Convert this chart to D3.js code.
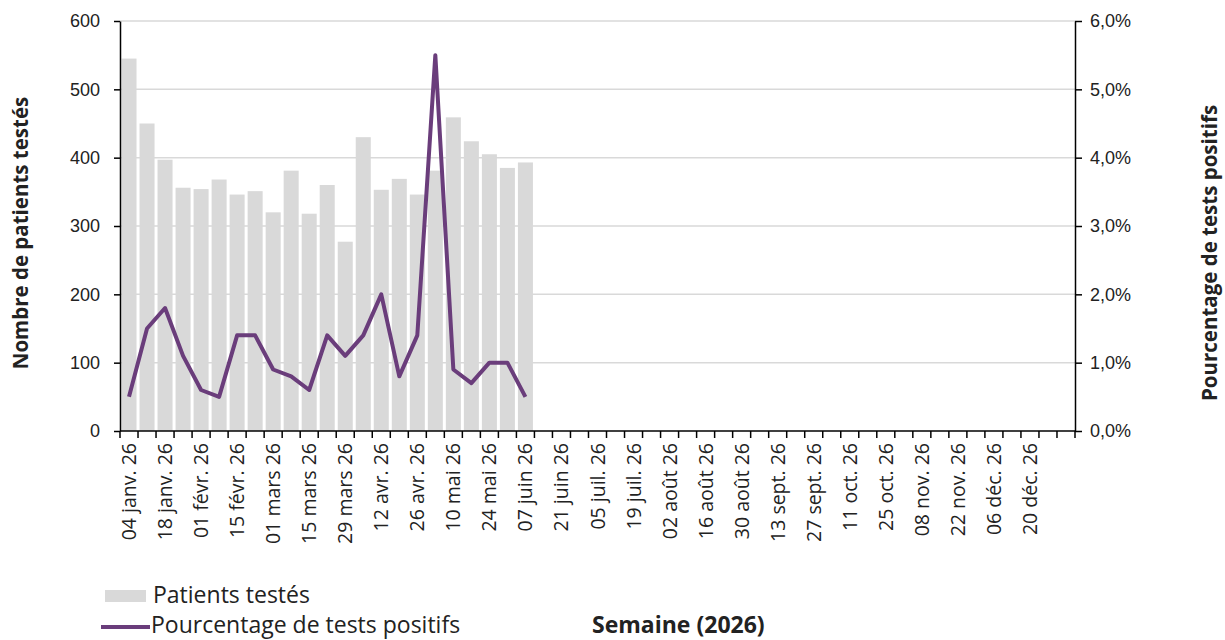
<!DOCTYPE html>
<html>
<head>
<meta charset="utf-8">
<script src="https://cdn.jsdelivr.net/npm/d3@7"></script>
<style>
  body { margin: 0; background: #fff; }
  svg { font-family: "Open Sans", sans-serif; }
  .axis path, .axis line { stroke: #000; stroke-width: 1.5px; }
  .axis text { font-size: 18px; fill: #222; }
  .axis text.xl { font-size: 19.5px; }
</style>
</head>
<body>
<svg width="1225" height="640"></svg>
<script>
// weeks of 2026 (x categories), the last one has no label
var weeks = ["04 janv. 26","11 janv. 26","18 janv. 26","25 janv. 26","01 févr. 26","08 févr. 26",
  "15 févr. 26","22 févr. 26","01 mars 26","08 mars 26","15 mars 26","22 mars 26","29 mars 26",
  "05 avr. 26","12 avr. 26","19 avr. 26","26 avr. 26","03 mai 26","10 mai 26","17 mai 26",
  "24 mai 26","31 mai 26","07 juin 26","14 juin 26","21 juin 26","28 juin 26","05 juil. 26",
  "12 juil. 26","19 juil. 26","26 juil. 26","02 août 26","09 août 26","16 août 26","23 août 26",
  "30 août 26","06 sept. 26","13 sept. 26","20 sept. 26","27 sept. 26","04 oct. 26","11 oct. 26",
  "18 oct. 26","25 oct. 26","01 nov. 26","08 nov. 26","15 nov. 26","22 nov. 26","29 nov. 26",
  "06 déc. 26","13 déc. 26","20 déc. 26","27 déc. 26","03 janv. 27"];

// labels printed under the axis
var tickLabels = ["04 janv. 26","18 janv. 26","01 févr. 26","15 févr. 26","01 mars 26","15 mars 26",
  "29 mars 26","12 avr. 26","26 avr. 26","10 mai 26","24 mai 26","07 juin 26","21 juin 26",
  "05 juil. 26","19 juil. 26","02 août 26","16 août 26","30 août 26","13 sept. 26","27 sept. 26",
  "11 oct. 26","25 oct. 26","08 nov. 26","22 nov. 26","06 déc. 26","20 déc. 26"];

// patients tested per week
var patients = [545, 450, 397, 356, 354, 368, 346, 351, 320, 381, 318, 360,
  277, 430, 353, 369, 346, 381, 459, 424, 405, 385, 393];

// percentage of positive tests
var positifs = [0.5, 1.5, 1.8, 1.1, 0.6, 0.5, 1.4, 1.4, 0.9, 0.8, 0.6, 1.4,
  1.1, 1.4, 2.0, 0.8, 1.4, 5.5, 0.9, 0.7, 1.0, 1.0, 0.5];

var leftTicks = [0, 100, 200, 300, 400, 500, 600];
var rightTicks = [0, 1, 2, 3, 4, 5, 6];

var svg = d3.select("svg");
var m = {left: 120, right: 1075, top: 21, bottom: 431};

var x = d3.scaleBand().domain(weeks).range([m.left, m.right]).padding(0);
var yL = d3.scaleLinear().domain([0, 600]).range([m.bottom, m.top]);
var yR = d3.scaleLinear().domain([0, 6]).range([m.bottom, m.top]);
var bw = x.bandwidth();

// gridlines
svg.append("g")
  .selectAll("line")
  .data(leftTicks.slice(1))
  .enter().append("line")
    .attr("x1", m.left).attr("x2", m.right)
    .attr("y1", function(d) { return yL(d); })
    .attr("y2", function(d) { return yL(d); })
    .attr("stroke", "#d9d9d9")
    .attr("stroke-width", 1.5);

// bars
svg.append("g")
  .selectAll("rect")
  .data(patients)
  .enter().append("rect")
    .attr("x", function(d, i) { return x(weeks[i]) + 1.5; })
    .attr("width", bw - 3)
    .attr("y", function(d) { return yL(d); })
    .attr("height", function(d) { return yL(0) - yL(d); })
    .attr("fill", "#d9d9d9");

// line
var line = d3.line()
  .x(function(d, i) { return x(weeks[i]) + bw / 2; })
  .y(function(d) { return yR(d); });

svg.append("path")
  .datum(positifs)
  .attr("d", line)
  .attr("fill", "none")
  .attr("stroke", "#6a3d7b")
  .attr("stroke-width", 4)
  .attr("stroke-linejoin", "round");

// left axis
svg.append("g")
  .attr("class", "axis")
  .attr("transform", "translate(" + m.left + ",0)")
  .call(d3.axisLeft(yL).tickValues(leftTicks).tickSize(6).tickSizeOuter(0).tickPadding(14));

// right axis
svg.append("g")
  .attr("class", "axis")
  .attr("transform", "translate(" + m.right + ",0)")
  .call(d3.axisRight(yR).tickValues(rightTicks).tickSize(7).tickSizeOuter(0).tickPadding(8)
    .tickFormat(function(d) { return d3.format(".1f")(d).replace(".", ",") + "%"; }));

// x axis: line + ticks at week boundaries
var xg = svg.append("g").attr("class", "axis");
xg.append("line")
  .attr("x1", m.left).attr("x2", m.right)
  .attr("y1", m.bottom).attr("y2", m.bottom);
xg.selectAll(".tk")
  .data(weeks.concat(["fin"]))
  .enter().append("line")
    .attr("class", "tk")
    .attr("x1", function(d, i) { return m.left + i * bw; })
    .attr("x2", function(d, i) { return m.left + i * bw; })
    .attr("y1", m.bottom).attr("y2", m.bottom + 7);
xg.selectAll("text")
  .data(tickLabels)
  .enter().append("text")
    .attr("class", "xl")
    .attr("transform", function(d) {
      return "translate(" + (x(d) + bw / 2 + 7) + "," + (m.bottom + 12) + ") rotate(-90)";
    })
    .attr("text-anchor", "end")
    .text(function(d) { return d; });

// axis titles
svg.append("text")
  .attr("transform", "translate(28,233) rotate(-90)")
  .attr("text-anchor", "middle")
  .style("font-size", "20.5px").style("font-weight", "bold").attr("fill", "#222")
  .text("Nombre de patients testés");

svg.append("text")
  .attr("transform", "translate(1217,253) rotate(-90)")
  .attr("text-anchor", "middle")
  .style("font-size", "20.5px").style("font-weight", "bold").attr("fill", "#222")
  .text("Pourcentage de tests positifs");

svg.append("text")
  .attr("x", 592).attr("y", 633)
  .style("font-size", "23px").style("font-weight", "bold").attr("fill", "#222")
  .text("Semaine (2026)");

// legend
var lg = svg.append("g");
lg.append("rect").attr("x", 105).attr("y", 590).attr("width", 41).attr("height", 12).attr("fill", "#d9d9d9");
lg.append("text").attr("x", 153).attr("y", 603).style("font-size", "23px").attr("fill", "#222").text("Patients testés");
lg.append("line").attr("x1", 101).attr("x2", 150).attr("y1", 627).attr("y2", 627)
  .attr("stroke", "#6a3d7b").attr("stroke-width", 4);
lg.append("text").attr("x", 151).attr("y", 633).style("font-size", "23px").attr("fill", "#222").text("Pourcentage de tests positifs");
</script>
</body>
</html>
